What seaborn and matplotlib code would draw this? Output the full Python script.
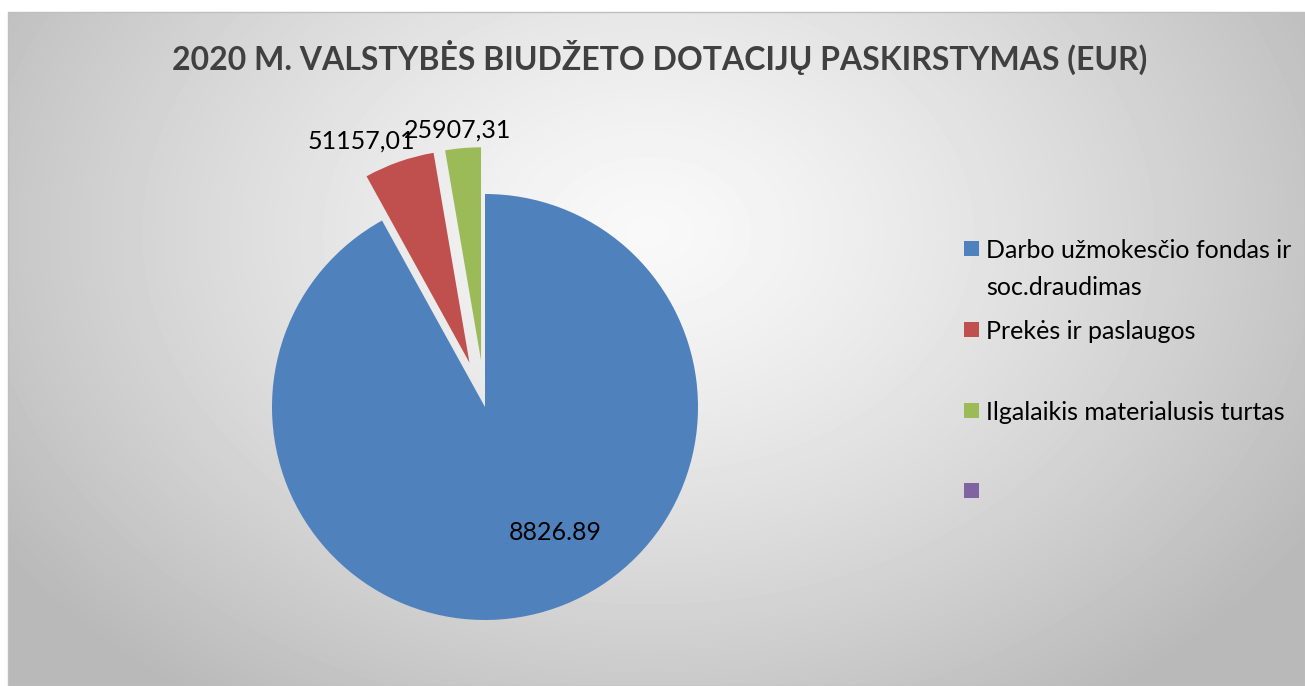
import numpy as np
import matplotlib
matplotlib.use("Agg")
import matplotlib.pyplot as plt
from matplotlib.patches import Rectangle
import seaborn as sns

# data
categories = ["Darbo užmokesčio fondas ir\nsoc.draudimas", "Prekės ir paslaugos",
              "Ilgalaikis materialusis turtas", ""]
values = [882689.00, 51157.01, 25907.31, 0.0]
value_labels = ["8826.89", "51157,01", "25907,31", ""]
colors = ["#4F81BD", "#C0504D", "#9BBB59", "#8064A2"]
title = "2020 M. VALSTYBĖS BIUDŽETO DOTACIJŲ PASKIRSTYMAS (EUR)"

sns.set_theme(style="white")
plt.rcParams['font.family'] = ['Lato', 'DejaVu Sans']

W, H = 1305, 686
fig = plt.figure(figsize=(W / 100, H / 100), dpi=100)
fig.patch.set_facecolor("white")

# background: radial gray gradient in the chart area
bg = fig.add_axes([8 / W, 0, 1 - 8 / W, 1 - 12 / H])
yy, xx = np.mgrid[0:674, 0:1297]
d = np.sqrt(((xx - 640) / 680.0) ** 2 + ((yy - 220) / 500.0) ** 2)
shade = 0.975 - 0.21 * np.clip(d, 0, 1.15) ** 1.3
bg.imshow(shade, cmap="gray", vmin=0, vmax=1, aspect="auto", interpolation="bilinear")
bg.set_axis_off()
fig.add_artist(Rectangle((8 / W, 0), 1 - 8 / W, 1 - 12 / H, transform=fig.transFigure,
                         fill=False, edgecolor="#bfbfbf", lw=1))

# pie axes: center at (485, 407) px, radius 213 px, limits +-1.35
r_px, lim = 213, 1.35
half = r_px * lim
cx, cy = 485, H - 407
ax = fig.add_axes([(cx - half) / W, (cy - half) / H, 2 * half / W, 2 * half / H])
ax.set_facecolor("none")
plot_vals = values[:3]
wedges, _ = ax.pie(plot_vals, colors=colors[:3], startangle=90, counterclock=False,
                   explode=[0, 0.22, 0.22], wedgeprops=dict(linewidth=0))
for w in wedges:
    w.set_clip_on(False)
ax.set_xlim(-lim, lim)
ax.set_ylim(-lim, lim)
ax.set_axis_off()

label_pos = [(0.33, -0.59), (-0.58, 1.25), (-0.127, 1.30)]
for txt, (lx, ly) in zip(value_labels[:3], label_pos):
    ax.text(lx, ly, txt, ha="center", va="center", fontsize=18, color="black")

# title
fig.text(660 / W, 1 - 57 / H, title, ha="center", va="center", fontsize=23,
         fontweight="bold", color="#404040")

# legend
leg_y = [248, 329, 410, 490]
for lab, col, yc in zip(categories, colors, leg_y):
    fig.add_artist(Rectangle((964 / W, 1 - (yc + 7.5) / H), 15 / W, 15 / H,
                             transform=fig.transFigure, facecolor=col, edgecolor="none"))
    if lab:
        fig.text(986 / W, 1 - (yc - 9) / H, lab, ha="left", va="top", fontsize=18,
                 color="black", linespacing=1.75)

fig.savefig("out.png", dpi=100)
